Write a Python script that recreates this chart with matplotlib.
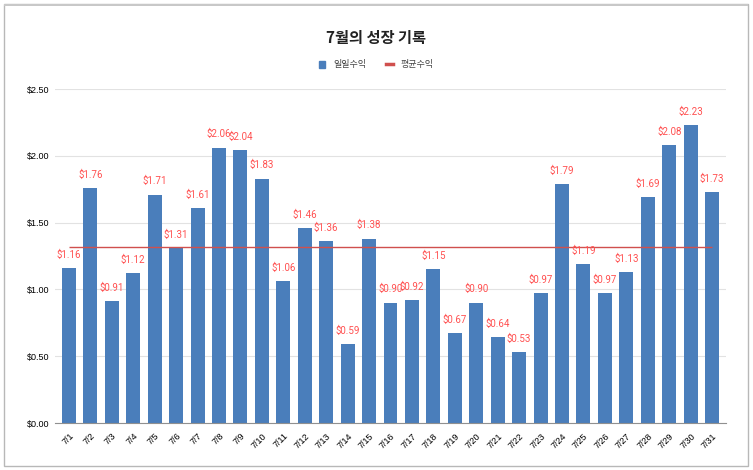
import matplotlib
matplotlib.use("Agg")
import matplotlib.pyplot as plt
from matplotlib.patches import Rectangle
from matplotlib.lines import Line2D
import numpy as np

plt.rcParams['font.family'] = ['Noto Sans CJK KR', 'DejaVu Sans']

days = ["7/%d" % d for d in range(1, 32)]
revenue = [1.16, 1.76, 0.91, 1.12, 1.71, 1.31, 1.61, 2.06, 2.04, 1.83,
           1.06, 1.46, 1.36, 0.59, 1.38, 0.90, 0.92, 1.15, 0.67, 0.90,
           0.64, 0.53, 0.97, 1.79, 1.19, 0.97, 1.13, 1.69, 2.08, 2.23, 1.73]
yticks = [0, 0.5, 1.0, 1.5, 2.0, 2.5]

bar_color = "#4a7ebb"
line_color = "#d0504d"
label_color = "#ff5050"

avg = np.mean(revenue)
x = np.arange(len(days))

fig = plt.figure(figsize=(7.53, 4.70), dpi=100)
# outer frame
fig.patches.append(Rectangle((4/753, 4/470), 744/753, 462/470, transform=fig.transFigure,
                             fill=False, edgecolor="#b8b8b8", linewidth=1.0))
fig.patches.append(Rectangle((4/753, 464/470), 744/753, 2/470, transform=fig.transFigure,
                             facecolor="#c8c8c8", edgecolor="none"))

ax = fig.add_axes([55/753, 47/470, 671/753, 334/470])
ax.bar(x, revenue, width=0.65, color=bar_color, zorder=2)
ax.hlines(avg, 0, len(days) - 1, color=line_color, linewidth=1.0, zorder=3)

for xi, v in zip(x, revenue):
    ax.annotate("$%.2f" % v, (xi, v), xytext=(0, 6), textcoords="offset points",
                ha="center", va="bottom", color=label_color, fontsize=7,
                family="Roboto", zorder=4)

ax.set_xlim(-0.65, len(days) - 0.35)
ax.set_ylim(0, 2.5)
ax.set_yticks(yticks)
ax.set_yticklabels(["$%.2f" % t for t in yticks], fontsize=6.5, family="Liberation Sans")
ax.set_xticks(x)
ax.set_xticklabels(days, rotation=45, ha="right", rotation_mode="anchor",
                   fontsize=6.5, family="Liberation Sans")
ax.grid(axis="y", color="#e2e2e2", linewidth=0.8, zorder=0)
ax.tick_params(axis="both", length=0, pad=4)
ax.tick_params(axis="x", pad=6)
for s in ["top", "right", "left"]:
    ax.spines[s].set_visible(False)
ax.spines["bottom"].set_color("#909090")

fig.text(0.5, 432/470, "7월의 성장 기록", ha="center", va="center",
         fontsize=11, fontweight="bold", color="#222222")

handles = [Rectangle((0, 0), 1, 1, color=bar_color),
           Line2D([0], [0], color=line_color, linewidth=2.5)]
fig.legend(handles, ["일일수익", "평균수익"], loc="center", bbox_to_anchor=(0.5, 405/470),
           ncol=2, frameon=False, fontsize=6.5, handlelength=0.7, handleheight=0.9,
           columnspacing=2.2, handletextpad=0.9, labelcolor="#444444")

fig.savefig("out.png", dpi=100)
